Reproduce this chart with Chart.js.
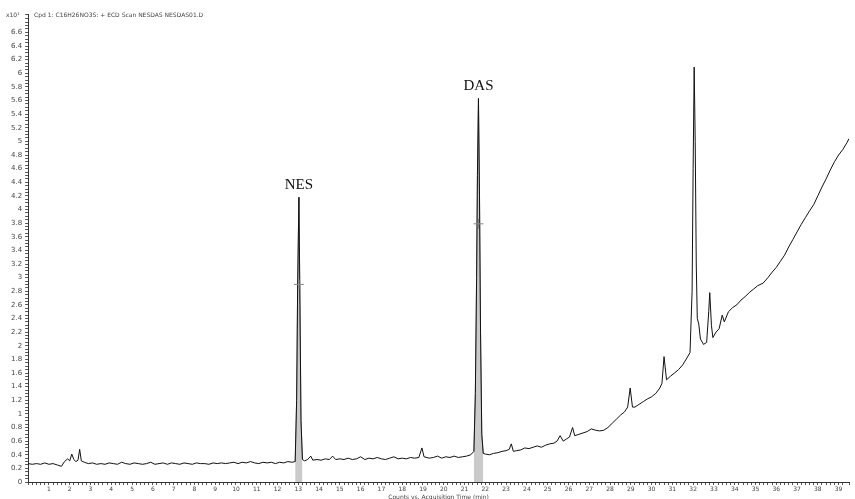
<!DOCTYPE html>
<html>
<head>
<meta charset="utf-8">
<script src="https://cdn.jsdelivr.net/npm/chart.js@4.4.1/dist/chart.umd.min.js"></script>
<style>
  html, body { margin: 0; padding: 0; background: #fff; }
  #wrap { width: 855px; height: 499px; }
</style>
</head>
<body>
<div id="wrap"><canvas id="gcChart"></canvas></div>
<script>
// retention time (min) and response
const times = [
  0.0, 0.2, 0.4, 0.6, 0.8, 1.0, 1.2, 1.4, 1.6, 1.75, 1.9, 2.0, 2.1, 2.2, 2.3, 2.4, 2.48, 2.56, 2.7, 2.9,
  3.1, 3.3, 3.5, 3.7, 3.9, 4.1, 4.3, 4.5, 4.7, 4.9, 5.1, 5.3, 5.5, 5.7, 5.9, 6.1, 6.3, 6.5, 6.7, 6.9,
  7.1, 7.3, 7.5, 7.7, 7.9, 8.1, 8.3, 8.5, 8.7, 8.9, 9.1, 9.3, 9.5, 9.7, 9.9, 10.1, 10.3, 10.5, 10.7, 10.9,
  11.1, 11.3, 11.5, 11.7, 11.9, 12.1, 12.3, 12.5, 12.7, 12.85, 12.92, 12.97, 13.03, 13.08, 13.13, 13.2,
  13.3, 13.45, 13.6, 13.7, 13.9, 14.1, 14.3, 14.5, 14.65, 14.8, 15.0, 15.2, 15.4, 15.6, 15.8, 16.0, 16.2,
  16.4, 16.6, 16.8, 17.0, 17.2, 17.4, 17.6, 17.8, 18.0, 18.2, 18.4, 18.6, 18.8, 18.95, 19.05, 19.3, 19.5,
  19.7, 19.9, 20.1, 20.3, 20.5, 20.7, 20.9, 21.1, 21.3, 21.45, 21.52, 21.58, 21.62, 21.67, 21.72, 21.77,
  21.83, 21.9, 22.0, 22.2, 22.4, 22.6, 22.8, 23.0, 23.15, 23.25, 23.35, 23.5, 23.7, 23.9, 24.1, 24.3,
  24.5, 24.7, 24.9, 25.1, 25.3, 25.45, 25.6, 25.75, 25.9, 26.05, 26.2, 26.3, 26.5, 26.7, 26.9, 27.1,
  27.3, 27.5, 27.7, 27.9, 28.1, 28.3, 28.5, 28.7, 28.85, 28.97, 29.08, 29.2, 29.4, 29.6, 29.8, 30.0,
  30.2, 30.4, 30.5, 30.6, 30.72, 30.9, 31.1, 31.3, 31.5, 31.7, 31.85, 31.95, 32.0, 32.05, 32.1, 32.15,
  32.2, 32.27, 32.35, 32.5, 32.65, 32.75, 32.8, 32.88, 32.95, 33.1, 33.25, 33.4, 33.5, 33.7, 33.9, 34.1,
  34.3, 34.5, 34.7, 34.9, 35.1, 35.37, 35.6, 35.8, 36.0, 36.2, 36.4, 36.6, 36.8, 37.0, 37.2, 37.4,
  37.6, 37.8, 38.0, 38.2, 38.4, 38.6, 38.8, 39.0, 39.2, 39.4, 39.5
];
const response = [
  0.27, 0.26, 0.27, 0.26, 0.28, 0.26, 0.27, 0.25, 0.23, 0.30, 0.34, 0.31, 0.41, 0.33, 0.30, 0.32, 0.48, 0.31, 0.29, 0.27,
  0.28, 0.26, 0.27, 0.26, 0.28, 0.27, 0.26, 0.29, 0.27, 0.26, 0.28, 0.27, 0.26, 0.27, 0.29, 0.26, 0.27, 0.28, 0.26, 0.28,
  0.27, 0.26, 0.28, 0.27, 0.26, 0.28, 0.27, 0.27, 0.26, 0.28, 0.27, 0.28, 0.27, 0.28, 0.29, 0.27, 0.29, 0.28, 0.30, 0.28,
  0.27, 0.29, 0.28, 0.29, 0.27, 0.29, 0.28, 0.30, 0.29, 0.30, 1.20, 2.90, 4.18, 2.60, 0.90, 0.33,
  0.31, 0.33, 0.38, 0.32, 0.33, 0.32, 0.34, 0.33, 0.38, 0.33, 0.34, 0.33, 0.35, 0.33, 0.34, 0.37, 0.33,
  0.35, 0.34, 0.36, 0.34, 0.33, 0.35, 0.37, 0.34, 0.35, 0.34, 0.36, 0.35, 0.36, 0.50, 0.37, 0.35, 0.36,
  0.38, 0.35, 0.37, 0.36, 0.38, 0.36, 0.37, 0.38, 0.40, 0.45, 1.30, 3.00, 4.50, 5.63, 4.20, 2.20,
  0.70, 0.42, 0.41, 0.40, 0.42, 0.43, 0.45, 0.46, 0.48, 0.56, 0.45, 0.46, 0.47, 0.50, 0.49, 0.51,
  0.53, 0.51, 0.54, 0.56, 0.57, 0.60, 0.68, 0.60, 0.63, 0.66, 0.80, 0.68, 0.70, 0.72, 0.74, 0.78,
  0.76, 0.75, 0.76, 0.80, 0.86, 0.92, 0.98, 1.03, 1.10, 1.38, 1.10, 1.10, 1.14, 1.18, 1.22, 1.25,
  1.30, 1.38, 1.45, 1.84, 1.50, 1.55, 1.60, 1.65, 1.72, 1.82, 1.90, 2.80, 4.60, 6.09, 5.00, 3.20,
  2.40, 2.32, 2.10, 2.02, 2.05, 2.50, 2.78, 2.30, 2.12, 2.20, 2.25, 2.45, 2.35, 2.50, 2.56, 2.60,
  2.67, 2.72, 2.78, 2.83, 2.88, 2.92, 3.00, 3.08, 3.15, 3.24, 3.33, 3.45, 3.56, 3.67, 3.78, 3.88,
  3.98, 4.07, 4.20, 4.33, 4.45, 4.58, 4.70, 4.80, 4.88, 4.98, 5.04
];

// integrated peaks (shaded) and their names
const peakNames = ['NES', 'DAS'];
const peakStart = [12.85, 21.45];
const peakEnd = [13.2, 21.9];
// crosshair markers drawn on the integrated peaks
const markerTimes = [13.03, 21.67];
const markerValues = [2.9, 3.79];

const headerText = 'x10\u00B9';
const headerInfo = 'Cpd 1: C16H26NO3S: + ECD Scan NESDAS NESDAS01.D ';
const xTitle = 'Counts vs. Acquisition Time (min)';

const trace = times.map((t, i) => ({ x: t, y: response[i] }));
const peakFills = peakStart.map((s, k) =>
  trace.filter(p => p.x >= s && p.x <= peakEnd[k]));
const markers = markerTimes.map((t, i) => ({ x: t, y: markerValues[i] }));

const smallFont = { size: 6, family: 'DejaVu Sans', lineHeight: 1 };

const overlay = {
  id: 'overlay',
  afterDatasetsDraw(chart) {
    const { ctx, scales } = chart;
    ctx.save();
    // peak names above the apex
    ctx.fillStyle = '#111';
    ctx.font = '15px "Liberation Serif", serif';
    ctx.textAlign = 'center';
    ctx.textBaseline = 'bottom';
    peakFills.forEach((pts, k) => {
      const top = pts.reduce((a, b) => (b.y > a.y ? b : a));
      ctx.fillText(peakNames[k], scales.x.getPixelForValue(top.x), scales.y.getPixelForValue(top.y) - 5);
    });
    // header line
    ctx.font = '6px "DejaVu Sans", sans-serif';
    ctx.fillStyle = '#444';
    ctx.textAlign = 'left';
    ctx.textBaseline = 'middle';
    ctx.fillText(headerText, 6, 15);
    ctx.fillText(headerInfo, 34, 15);
    ctx.restore();
  }
};

new Chart(document.getElementById('gcChart'), {
  type: 'line',
  data: {
    datasets: [
      {
        data: trace,
        borderColor: '#111',
        borderWidth: 1,
        pointRadius: 0,
        tension: 0,
        order: 1
      },
      ...peakFills.map(pts => ({
        data: pts,
        borderColor: '#999',
        backgroundColor: 'rgba(150,150,150,0.5)',
        borderWidth: 1,
        pointRadius: 0,
        fill: 'origin',
        order: 2
      })),
      {
        data: markers,
        showLine: false,
        pointStyle: 'cross',
        pointRadius: 5,
        borderColor: '#888',
        borderWidth: 1,
        order: 0
      }
    ]
  },
  options: {
    responsive: true,
    maintainAspectRatio: false,
    animation: false,
    layout: { padding: { top: 14, right: 1, left: 8, bottom: -1 } },
    plugins: {
      legend: { display: false },
      tooltip: { enabled: false }
    },
    scales: {
      x: {
        type: 'linear',
        min: 0,
        max: 39.5,
        border: { color: '#333', width: 1 },
        grid: { drawOnChartArea: false, tickLength: 3, color: '#555' },
        ticks: {
          stepSize: 0.2,
          autoSkip: false,
          maxRotation: 0,
          padding: 1,
          color: '#444',
          font: smallFont,
          callback: v => (v > 0.5 && Math.abs(v - Math.round(v)) < 1e-6 ? String(Math.round(v)) : '')
        },
        title: {
          display: true,
          text: xTitle,
          color: '#444',
          font: smallFont,
          padding: { top: 1, bottom: 0 }
        }
      },
      y: {
        min: 0,
        max: 6.87,
        border: { color: '#333', width: 1 },
        grid: { drawOnChartArea: false, tickLength: 3, color: '#555' },
        ticks: {
          stepSize: 0.05,
          autoSkip: false,
          padding: 3,
          color: '#444',
          font: { size: 7, family: 'DejaVu Sans' },
          callback: v => {
            const r = Math.round(v * 5);
            if (Math.abs(v * 5 - r) > 1e-6 || v > 6.7) return '';
            return String(Number((r / 5).toFixed(1)));
          }
        }
      }
    }
  },
  plugins: [overlay]
});
</script>
</body>
</html>
